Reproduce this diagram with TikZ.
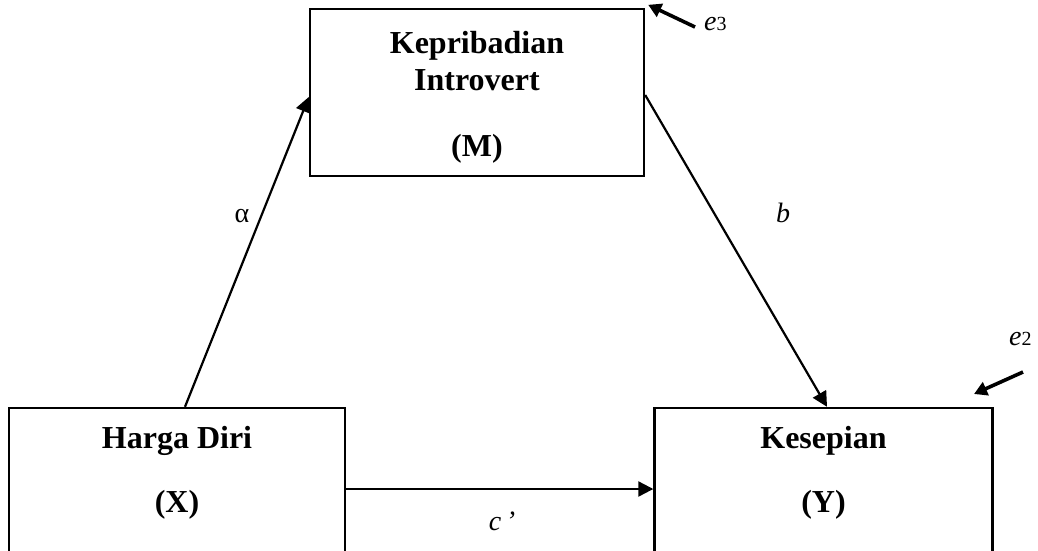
\documentclass[tikz,border=0pt]{standalone}
\usepackage{fontspec}
\setmainfont{Liberation Serif}
\usetikzlibrary{arrows.meta,calc}
\begin{document}
\begin{tikzpicture}[x=1pt,y=-1pt,
  box/.style={draw,line width=2.4pt,inner sep=0pt},
  btext/.style={font=\fontsize{32}{36}\selectfont\bfseries,anchor=base,inner sep=0pt},
  lab/.style={font=\fontsize{28}{32}\selectfont,anchor=base,inner sep=0pt},
  path/.style={line width=2.2pt,-{Triangle[length=15pt,width=15pt]}},
  err/.style={line width=3.6pt,-{Triangle[length=13pt,width=14pt]}}]
\useasboundingbox (0,0) rectangle (1038,550);
\clip (0,0) rectangle (1038,550);
% boxes
\node[box,minimum width=334pt,minimum height=167pt] (M) at (477,92.5) {};
\node[box,minimum width=336pt,minimum height=160pt] (X) at (177,488) {};
\node[box,minimum width=338pt,minimum height=160pt] (Y) at (823.5,488) {};
% texts
\node[btext] (m1) at (477,53) {Kepribadian};
\node[btext] (m2) at (477,90) {Introvert};
\node[btext] (m3) at (477,156) {(M)};
\node[btext] (x1) at (177,448) {Harga Diri};
\node[btext] (x2) at (177,512) {(X)};
\node[btext] (y1) at (823.5,448) {Kesepian};
\node[btext] (y2) at (823.5,512) {(Y)};
% paths
\draw[path] ([xshift=8pt]X.north) -- ([yshift=-4.5pt]M.west);
\draw[path] ([yshift=-2.5pt]M.east) -- ([xshift=3.5pt]Y.north);
\draw[path] ([yshift=-1pt]X.east) -- ([yshift=-1pt]Y.west);
% error terms
\coordinate (e3t) at (695,27);
\coordinate (e2t) at (1023,372);
\coordinate (e2h) at (974,394);
\draw[err] (e3t) -- ([xshift=3pt,yshift=3pt]M.north east);
\draw[err] (e2t) -- (e2h);
\node[lab,anchor=base west] (e3) at (704,30) {\textit{e}\fontsize{20}{22}\selectfont 3};
\node[lab,anchor=base west] (e2) at (1009,345) {\textit{e}\fontsize{20}{22}\selectfont 2};
% labels
\node[lab] (la) at (242,222) {α};
\node[lab] (lb) at (783,222) {\textit{b}};
\node[lab] (lc) at (502,530) {\textit{c\,’}};
\end{tikzpicture}
\end{document}
